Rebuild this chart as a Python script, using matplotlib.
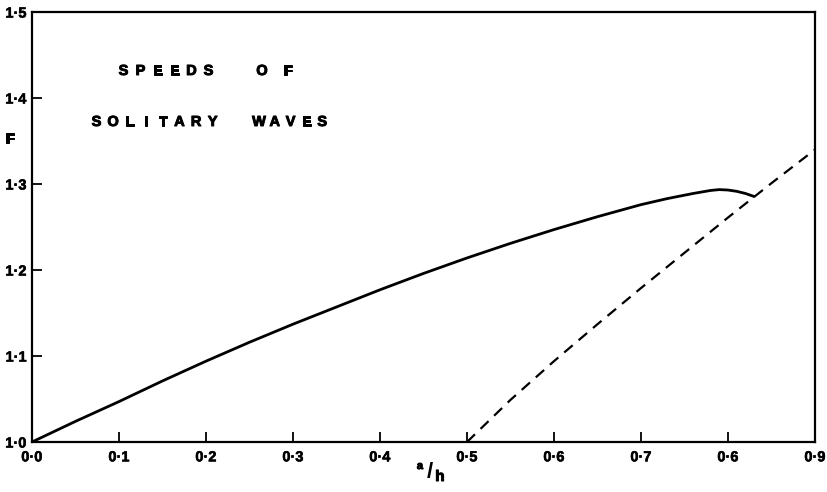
import matplotlib
matplotlib.use("Agg")
import matplotlib.pyplot as plt
import matplotlib.patheffects as pe

plt.rcParams.update({
    "font.family": ["Liberation Sans", "DejaVu Sans"],
    "font.weight": "bold",
})

W, H = 828, 492
HEAVY = [pe.withStroke(linewidth=0.7, foreground="black")]

# solitary wave speed F against amplitude a/h
wave_ah = [0.0, 0.05, 0.1, 0.15, 0.2, 0.25, 0.3, 0.35, 0.4, 0.45, 0.5, 0.55,
           0.6, 0.65, 0.7, 0.73, 0.76, 0.78, 0.79, 0.80, 0.81, 0.82, 0.83]
wave_F = [1.0, 1.024, 1.047, 1.071, 1.094, 1.116, 1.137, 1.157, 1.177, 1.196,
          1.214, 1.231, 1.247, 1.262, 1.276, 1.283, 1.289, 1.2925, 1.2935,
          1.293, 1.2915, 1.289, 1.2855]

# dashed reference curve
ref_ah = [0.5, 0.55, 0.6, 0.65, 0.7, 0.75, 0.8, 0.85, 0.9]
ref_F = [1.0, 1.049, 1.094, 1.137, 1.179, 1.220, 1.261, 1.301, 1.340]

xticks = [0.0, 0.1, 0.2, 0.3, 0.4, 0.5, 0.6, 0.7, 0.8, 0.9]
xtick_labels = ["0·0", "0·1", "0·2", "0·3", "0·4", "0·5", "0·6", "0·7", "0·6", "0·9"]
yticks = [1.0, 1.1, 1.2, 1.3, 1.4, 1.5]
ytick_labels = ["1·0", "1·1", "1·2", "1·3", "1·4", "1·5"]

fig = plt.figure(figsize=(8.28, 4.92), dpi=100)
ax = fig.add_axes([0.0386, 0.1016, 0.9457, 0.874])

ax.plot(wave_ah, wave_F, color="black", lw=2.0, solid_capstyle="round",
        solid_joinstyle="round")
ax.plot(ref_ah, ref_F, color="black", lw=1.6, linestyle=(0, (5, 3.5)))

ax.set_xlim(0.0, 0.9)
ax.set_ylim(1.0, 1.5)
ax.set_xticks(xticks)
ax.set_xticklabels(xtick_labels)
ax.set_yticks(yticks)
ax.set_yticklabels(ytick_labels)
ax.tick_params(direction="in", length=7, width=1.3, labelsize=10.5)
ax.tick_params(axis="x", pad=6)
ax.tick_params(axis="y", pad=4)
for lab in ax.get_xticklabels() + ax.get_yticklabels():
    lab.set_path_effects([pe.withStroke(linewidth=0.4, foreground="black")])
for s in ax.spines.values():
    s.set_linewidth(1.6)

# axis labels
fig.text(10 / W, 1 - 139 / H, "F", fontsize=10.5, fontweight="bold",
         ha="center", va="center", path_effects=HEAVY)
fig.text(420 / W, 1 - 466 / H, "a", fontsize=8, ha="center", va="center",
         path_effects=HEAVY)
fig.text(430 / W, 1 - 473 / H, "/", fontsize=16, ha="center", va="center")
fig.text(440 / W, 1 - 477 / H, "h", fontsize=11, ha="center", va="center",
         path_effects=HEAVY)


def spaced(word, x0, y, pitch, size=10.5):
    # one letter at a time, evenly spread (pixel positions)
    for i, ch in enumerate(word):
        fig.text((x0 + i * pitch) / W, 1 - y / H, ch, fontsize=size,
                 fontweight="bold", ha="center", va="center",
                 path_effects=HEAVY)


spaced("SPEEDS", 123.5, 71, 17.0)
spaced("OF", 262, 71, 26.0)
spaced("SOLITARY", 96.5, 122, 16.6)
spaced("WAVES", 259, 122, 15.8)

fig.savefig("out.png", dpi=100)
